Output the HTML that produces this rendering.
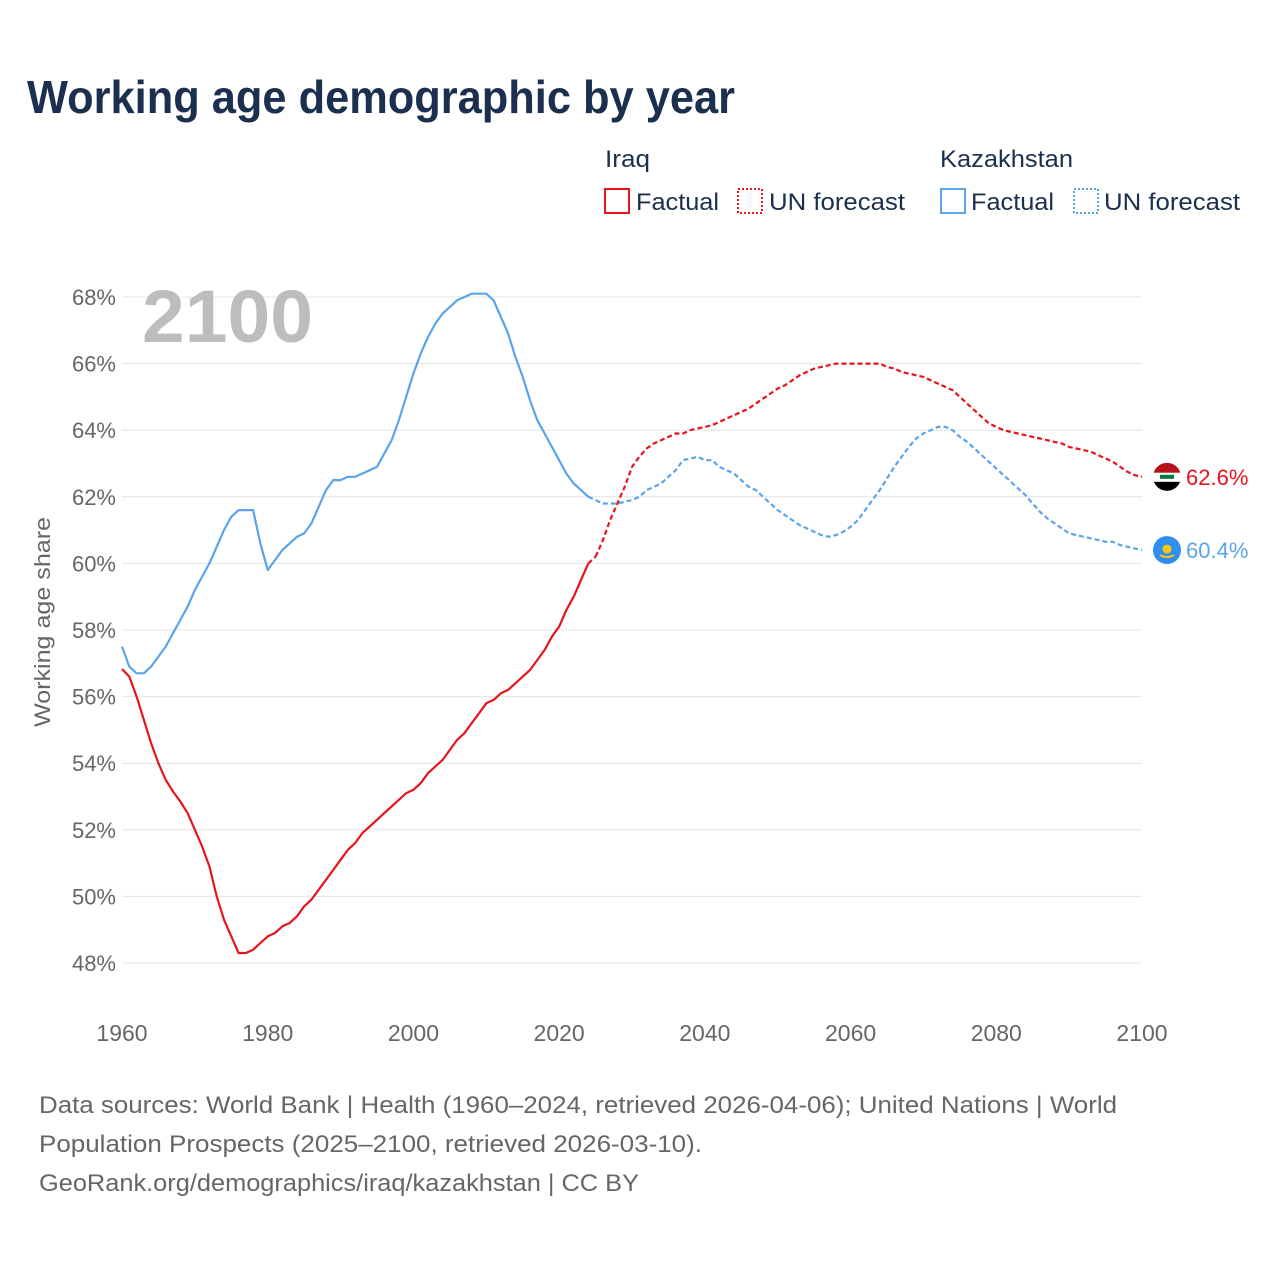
<!DOCTYPE html>
<html><head><meta charset="utf-8"><style>
body{margin:0;background:#fff;font-family:"Liberation Sans",sans-serif}
#wrap{position:relative;width:1280px;height:1280px;overflow:hidden}
</style></head><body>
<div id="wrap">
<svg id="chart" width="1280" height="1280" xmlns="http://www.w3.org/2000/svg">
<text x="27" y="113" font-size="46" font-weight="bold" fill="#1b2f4e" textLength="708" lengthAdjust="spacingAndGlyphs">Working age demographic by year</text>
<g font-size="24" fill="#1b2f4e">
<text x="605" y="167" textLength="45" lengthAdjust="spacingAndGlyphs">Iraq</text>
<text x="940" y="167" textLength="133" lengthAdjust="spacingAndGlyphs">Kazakhstan</text>
<g><rect x="605" y="189" width="24" height="24" fill="none" stroke="#e8141c" stroke-width="2"/><text x="636" y="210" textLength="83" lengthAdjust="spacingAndGlyphs">Factual</text></g>
<g><rect x="738" y="189" width="24" height="24" fill="none" stroke="#e8141c" stroke-width="2" stroke-dasharray="2,2"/><text x="769" y="210" textLength="136" lengthAdjust="spacingAndGlyphs">UN forecast</text></g>
<g><rect x="941" y="189" width="24" height="24" fill="none" stroke="#5ba4ea" stroke-width="2"/><text x="971" y="210" textLength="83" lengthAdjust="spacingAndGlyphs">Factual</text></g>
<g><rect x="1074" y="189" width="24" height="24" fill="none" stroke="#5ba4ea" stroke-width="2" stroke-dasharray="2,2"/><text x="1104" y="210" textLength="136" lengthAdjust="spacingAndGlyphs">UN forecast</text></g>
</g>
<g id="grid"></g>
<text x="142" y="342" font-size="74" font-weight="bold" fill="#bdbdbd" textLength="171" lengthAdjust="spacingAndGlyphs">2100</text>
<text transform="translate(50,622) rotate(-90)" text-anchor="middle" font-size="22" fill="#666" textLength="210" lengthAdjust="spacingAndGlyphs">Working age share</text>
<g id="series"></g>
<g font-size="24" fill="#666">
<text x="39" y="1113" textLength="1078" lengthAdjust="spacingAndGlyphs">Data sources: World Bank | Health (1960–2024, retrieved 2026-04-06); United Nations | World</text>
<text x="39" y="1152" textLength="663" lengthAdjust="spacingAndGlyphs">Population Prospects (2025–2100, retrieved 2026-03-10).</text>
<text x="39" y="1191" textLength="600" lengthAdjust="spacingAndGlyphs">GeoRank.org/demographics/iraq/kazakhstan | CC BY</text>
</g>
</svg>
</div>
<script>
const yTicks=[48,50,52,54,56,58,60,62,64,66,68];
const xTicks=[1960,1980,2000,2020,2040,2060,2080,2100];
const iraqFactual=[56.83,56.6,56.0,55.3,54.6,54.0,53.5,53.15,52.85,52.5,52.0,51.5,50.9,50.0,49.3,48.8,48.3,48.3,48.4,48.6,48.8,48.9,49.1,49.2,49.4,49.7,49.9,50.2,50.5,50.8,51.1,51.4,51.6,51.9,52.1,52.3,52.5,52.7,52.9,53.1,53.2,53.4,53.7,53.9,54.1,54.4,54.7,54.9,55.2,55.5,55.8,55.9,56.1,56.2,56.4,56.6,56.8,57.1,57.4,57.8,58.1,58.6,59.0,59.5,60.0];
const iraqForecast=[60.2,60.7,61.3,61.8,62.3,62.9,63.2,63.45,63.6,63.7,63.8,63.9,63.9,64.0,64.05,64.1,64.15,64.25,64.35,64.45,64.55,64.65,64.8,64.95,65.1,65.25,65.35,65.5,65.65,65.75,65.85,65.9,65.95,66.0,66.0,66.0,66.0,66.0,66.0,66.0,65.9,65.85,65.75,65.7,65.65,65.6,65.5,65.4,65.3,65.2,65.0,64.8,64.6,64.4,64.2,64.1,64.0,63.95,63.9,63.85,63.8,63.75,63.7,63.65,63.6,63.5,63.45,63.4,63.35,63.25,63.15,63.05,62.9,62.75,62.65,62.6];
const kazFactual=[57.5,56.9,56.7,56.7,56.9,57.2,57.5,57.9,58.3,58.7,59.2,59.6,60.0,60.5,61.0,61.4,61.6,61.6,61.6,60.6,59.8,60.1,60.4,60.6,60.8,60.9,61.2,61.7,62.2,62.5,62.5,62.6,62.6,62.7,62.8,62.9,63.3,63.7,64.3,65.0,65.7,66.3,66.8,67.2,67.5,67.7,67.9,68.0,68.1,68.1,68.1,67.9,67.4,66.9,66.2,65.6,64.9,64.3,63.9,63.5,63.1,62.7,62.4,62.2,62.0];
const kazForecast=[61.9,61.8,61.8,61.8,61.85,61.9,62.0,62.2,62.3,62.4,62.6,62.8,63.1,63.15,63.2,63.1,63.1,62.9,62.8,62.7,62.5,62.3,62.2,62.0,61.8,61.6,61.45,61.3,61.15,61.05,60.95,60.85,60.8,60.85,60.95,61.1,61.3,61.6,61.9,62.2,62.55,62.9,63.2,63.5,63.75,63.9,64.0,64.1,64.1,64.0,63.8,63.65,63.45,63.25,63.05,62.85,62.65,62.45,62.25,62.05,61.8,61.55,61.35,61.2,61.05,60.9,60.85,60.8,60.75,60.7,60.65,60.65,60.55,60.5,60.45,60.4];
const NS='http://www.w3.org/2000/svg';
const x=yr=>122+(yr-1960)*(1020/140);
const y=v=>297+(68-v)*33.3;
function mk(t,a,p){const e=document.createElementNS(NS,t);for(const k in a)e.setAttribute(k,a[k]);p.appendChild(e);return e;}
const grid=document.getElementById('grid');
yTicks.forEach(v=>{
  const l=mk('line',{x1:122,x2:1142,y1:y(v),y2:y(v),stroke:'#e4e4e4','stroke-width':1},grid);
  
  
  const t=mk('text',{x:116,y:y(v)+8,'text-anchor':'end','font-size':22,fill:'#666'},grid);
  t.textContent=v+'%';
  
  
});
xTicks.forEach(yr=>{
  const t=mk('text',{x:x(yr),y:1041,'text-anchor':'middle','font-size':23,fill:'#666'},grid);
  t.textContent=yr;
  
  
});
const S=document.getElementById('series');
function line(vals,start,color,dash,name){
  const d=vals.map((v,i)=>(i?'L':'M')+x(start+i).toFixed(1)+','+y(v).toFixed(1)).join('');
  const p=mk('path',{d:d,fill:'none',stroke:color,'stroke-width':2.2,'stroke-linejoin':'round'},S);
  if(dash)p.setAttribute('stroke-dasharray','5,3');
  
  
}
line(kazFactual,1960,'#5ba4ea',false,'kazakhstan-factual-line');
line(kazForecast,2025,'#5ba4ea',true,'kazakhstan-forecast-line');
line(iraqFactual,1960,'#e8141c',false,'iraq-factual-line');
line(iraqForecast,2025,'#e8141c',true,'iraq-forecast-line');
line([kazFactual[64],kazForecast[0]],2024,'#5ba4ea',true,'kazakhstan-connector');
line([iraqFactual[64],iraqForecast[0]],2024,'#e8141c',true,'iraq-connector');
const iy=y(iraqForecast[iraqForecast.length-1]), ky=y(kazForecast[kazForecast.length-1]);
const gi=mk('g',{},S);


const cp=mk('clipPath',{id:'ci'},gi);
mk('circle',{cx:1167,cy:iy,r:14},cp);
const gc=mk('g',{'clip-path':'url(#ci)'},gi);
mk('rect',{x:1153,y:iy-14,width:28,height:10,fill:'#b5121b'},gc);
mk('rect',{x:1153,y:iy-4,width:28,height:9,fill:'#fff'},gc);
mk('rect',{x:1153,y:iy+5,width:28,height:10,fill:'#000'},gc);
mk('rect',{x:1160,y:iy-2,width:14,height:4,fill:'#007a3d'},gc);
const ti=mk('text',{x:1186,y:iy+8,'font-size':22,fill:'#e8141c'},S);
ti.textContent=iraqForecast[iraqForecast.length-1].toFixed(1)+'%';


const gk=mk('g',{},S);


mk('circle',{cx:1167,cy:ky,r:14,fill:'#2f8ff0'},gk);
mk('circle',{cx:1167,cy:ky-1,r:4.5,fill:'#f5c518'},gk);
mk('path',{d:`M1160,${ky+5} Q1167,${ky+9} 1174,${ky+5}`,stroke:'#f5c518','stroke-width':2,fill:'none'},gk);
const tk=mk('text',{x:1186,y:ky+8,'font-size':22,fill:'#5ba4ea'},S);
tk.textContent=kazForecast[kazForecast.length-1].toFixed(1)+'%';


</script>
</body></html>
